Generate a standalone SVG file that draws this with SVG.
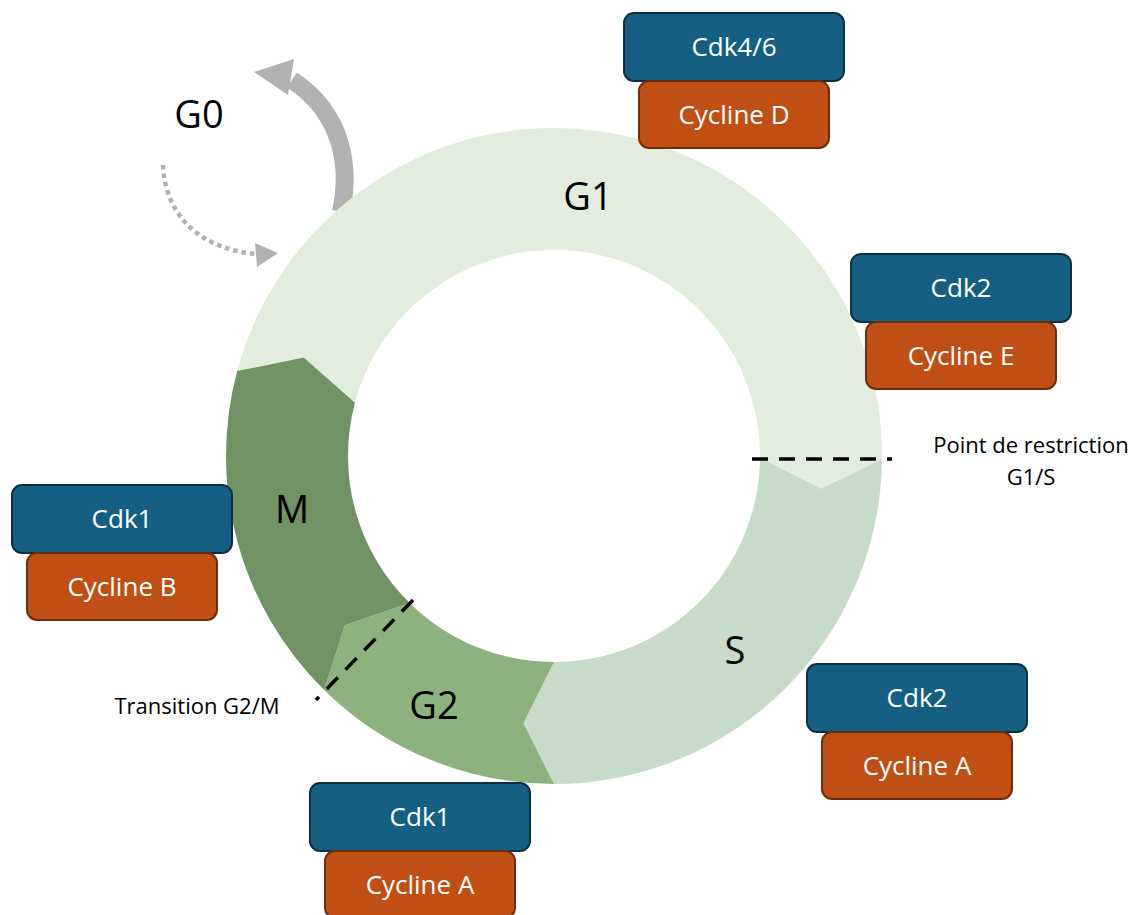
<svg xmlns="http://www.w3.org/2000/svg" width="1143" height="915" viewBox="0 0 1143 915">
<style>
.lbl{font-family:"Open Sans","Liberation Sans",sans-serif;fill:#000;text-anchor:middle}
.big{font-size:38px}
.small{font-size:22px}
.btxt{font-family:"Open Sans","Liberation Sans",sans-serif;font-size:26px;fill:#fff;text-anchor:middle}
.cdk{fill:#156082;stroke:#0B3042;stroke-width:2}
.cyc{fill:#C04F15;stroke:#6E2E0E;stroke-width:2}
.dash{stroke:#000;stroke-width:3.5;stroke-dasharray:16 11;fill:none}
</style>
<rect width="1143" height="915" fill="#fff"/>
<g id="connectors">
  <path d="M 341 212 C 350 170, 345 115, 292 80" fill="none" stroke="#B2B2B2" stroke-width="18"/>
  <polygon points="254,72 294,59 288,95" fill="#B2B2B2"/>
  <path d="M 163 165 C 165 215, 200 250, 258 254" fill="none" stroke="#B2B2B2" stroke-width="4.5" stroke-dasharray="4.5 4"/>
  <polygon points="278,253 255,243 257,267" fill="#B2B2B2"/>
</g>
<g id="ring">
  <path id="seg-G1" d="M 237.2 371.1 L 303.7 357.4 L 355.0 402.7 A 206 206 0 0 1 760.0 457.8 L 821.0 488.8 L 882.0 458.9 A 328 328 0 0 0 237.2 371.1 Z" fill="#E3EDDE"/>
  <path id="seg-S" d="M 882.0 458.9 L 821.0 488.8 L 760.0 457.8 A 206 206 0 0 1 554 662 L 523.5 723.3 L 554 784 A 328 328 0 0 0 882.0 458.9 Z" fill="#C7DCC8"/>
  <path id="seg-G2" d="M 554 784 L 523.5 723.3 L 554 662 A 206 206 0 0 1 409.6 602.9 L 344.9 625.3 L 324.1 689.9 A 328 328 0 0 0 554 784 Z" fill="#8DB27D"/>
  <path id="seg-M" d="M 324.1 689.9 L 344.9 625.3 L 409.6 602.9 A 206 206 0 0 1 355.0 402.7 L 303.7 357.4 L 237.2 371.1 A 328 328 0 0 0 324.1 689.9 Z" fill="#709264"/>
</g>
<g id="checkpoints">
  <line class="dash" x1="752" y1="459" x2="892" y2="459"/>
  <line class="dash" x1="413" y1="600" x2="316" y2="700"/>
</g>
<g id="labels">
  <text class="lbl big" x="199" y="128">G0</text>
  <text class="lbl big" x="588" y="210">G1</text>
  <text class="lbl big" x="735" y="664">S</text>
  <text class="lbl big" x="434" y="719">G2</text>
  <text class="lbl big" x="292" y="523">M</text>
  <text class="lbl small" x="1031" y="453">Point de restriction</text>
  <text class="lbl small" x="1031" y="485">G1/S</text>
  <text class="lbl small" x="197" y="714">Transition G2/M</text>
</g>
<g id="node-cdk46">
  <rect class="cdk" x="624" y="13" width="220" height="68" rx="10"/>
  <text class="btxt" x="734" y="56">Cdk4/6</text>
  <rect class="cyc" x="639" y="81" width="190" height="67" rx="10"/>
  <text class="btxt" x="734" y="124">Cycline D</text>
</g>
<g id="node-cdk2-e">
  <rect class="cdk" x="851" y="254" width="220" height="68" rx="10"/>
  <text class="btxt" x="961" y="297">Cdk2</text>
  <rect class="cyc" x="866" y="322" width="190" height="67" rx="10"/>
  <text class="btxt" x="961" y="365">Cycline E</text>
</g>
<g id="node-cdk1-b">
  <rect class="cdk" x="12" y="485" width="220" height="68" rx="10"/>
  <text class="btxt" x="122" y="528">Cdk1</text>
  <rect class="cyc" x="27" y="553" width="190" height="67" rx="10"/>
  <text class="btxt" x="122" y="596">Cycline B</text>
</g>
<g id="node-cdk2-a">
  <rect class="cdk" x="807" y="664" width="220" height="68" rx="10"/>
  <text class="btxt" x="917" y="707">Cdk2</text>
  <rect class="cyc" x="822" y="732" width="190" height="67" rx="10"/>
  <text class="btxt" x="917" y="775">Cycline A</text>
</g>
<g id="node-cdk1-a">
  <rect class="cdk" x="310" y="783" width="220" height="68" rx="10"/>
  <text class="btxt" x="420" y="826">Cdk1</text>
  <rect class="cyc" x="325" y="851" width="190" height="67" rx="10"/>
  <text class="btxt" x="420" y="894">Cycline A</text>
</g>
</svg>
